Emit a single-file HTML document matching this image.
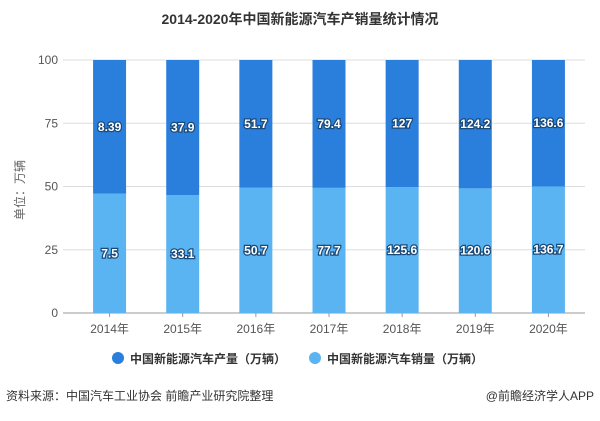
<!DOCTYPE html>
<html><head><meta charset="utf-8"><style>
body{margin:0;background:#fff;}
svg text{font-family:"Liberation Sans","Noto Sans CJK SC",sans-serif;}
</style></head><body>
<svg width="600" height="416" viewBox="0 0 600 416">
<text x="300" y="24" text-anchor="middle" font-size="14" font-weight="bold" fill="#333">2014-2020年中国新能源汽车产销量统计情况</text>
<g id="grid"></g>
<g id="bars"></g>
<g id="xaxis"></g>
<text transform="translate(24,190) rotate(-90)" text-anchor="middle" font-size="12" fill="#666">单位：万辆</text>
<g><circle cx="118" cy="358" r="6" fill="#2a7fdc"/><text x="130" y="363" font-size="12" font-weight="bold" fill="#333">中国新能源汽车产量（万辆）</text></g>
<g><circle cx="315" cy="358" r="6" fill="#5ab4f2"/><text x="327" y="363" font-size="12" font-weight="bold" fill="#333">中国新能源汽车销量（万辆）</text></g>
<text x="6" y="400" font-size="12" fill="#333">资料来源：中国汽车工业协会 前瞻产业研究院整理</text>
<text x="594" y="400" text-anchor="end" font-size="12" fill="#333">@前瞻经济学人APP</text>
</svg>
<script>
const categories=["2014年","2015年","2016年","2017年","2018年","2019年","2020年"];
const production=[8.39,37.9,51.7,79.4,127,124.2,136.6];
const sales=[7.5,33.1,50.7,77.7,125.6,120.6,136.7];
const yTicks=[0,25,50,75,100];
const NS="http://www.w3.org/2000/svg";
const x0=73,x1=585,yTop=60,yBot=313,axL=63;
const band=(x1-x0)/categories.length,bw=33;
const xc=i=>x0+band*(i+0.5);
const y=v=>yBot-(yBot-yTop)*v/100;
function mk(t,a,p){const e=document.createElementNS(NS,t);for(const k in a)e.setAttribute(k,a[k]);p.appendChild(e);return e;}
const grid=document.getElementById('grid'),bars=document.getElementById('bars'),xa=document.getElementById('xaxis');
yTicks.forEach(t=>{
 const l=mk('line',{x1:axL,x2:x1,y1:y(t),y2:y(t),stroke:t===0?'#999':'#ddd','stroke-width':1},grid);
 
 
 const tx=mk('text',{x:58,y:y(t)+4,'text-anchor':'end','font-size':12,fill:'#555'},grid);tx.textContent=t;
 
 
});
categories.forEach((c,i)=>{
 const tot=production[i]+sales[i],sp=sales[i]/tot*100;
 const cx=xc(i);
 const rs=mk('rect',{x:cx-bw/2,y:y(sp),width:bw,height:yBot-y(sp),fill:'#5ab4f2'},bars);
 
 
 const rp=mk('rect',{x:cx-bw/2,y:yTop,width:bw,height:y(sp)-yTop,fill:'#2a7fdc'},bars);
 
 
 [[production[i],(yTop+y(sp))/2],[sales[i],(y(sp)+yBot)/2]].forEach(([v,yy],k)=>{
  const t=mk('text',{x:cx,y:yy+4,'text-anchor':'middle','font-size':12,'font-weight':'bold',fill:'#fff',stroke:'#1a4a7a','stroke-width':2.5,'paint-order':'stroke'},bars);
  t.textContent=v;
  
  
 });
 const tk=mk('line',{x1:cx,x2:cx,y1:yBot,y2:yBot+4,stroke:'#999'},xa);
 
 
 const xt=mk('text',{x:cx,y:yBot+20,'text-anchor':'middle','font-size':12,fill:'#555'},xa);xt.textContent=c;
 
 
});
</script>
</body></html>
